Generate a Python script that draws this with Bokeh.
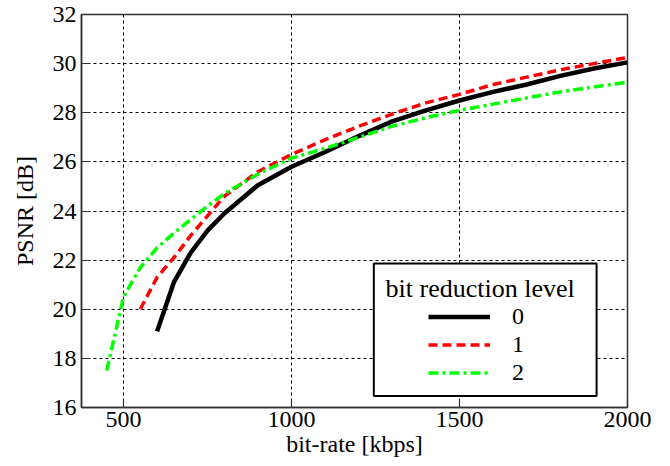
from bokeh.plotting import figure
from bokeh.models import (Range1d, FixedTicker, Legend, LegendItem,
                          BoxAnnotation, Label)
from bokeh.embed import file_html
from bokeh.resources import INLINE

# ---- data ----
levels = ["0", "1", "2"]
bitrate0 = [600, 650, 700, 750, 800, 900, 1000, 1100, 1200, 1300, 1400, 1500,
            1600, 1700, 1800, 1900, 2000]
psnr0 = [19.1, 21.1, 22.3, 23.2, 23.9, 25.05, 25.8, 26.4, 27.05, 27.65, 28.1,
         28.5, 28.85, 29.15, 29.5, 29.8, 30.05]
bitrate1 = [550, 600, 650, 700, 750, 800, 900, 1000, 1100, 1200, 1300, 1400,
            1500, 1600, 1700, 1800, 1900, 2000]
psnr1 = [20.0, 21.3, 22.1, 23.0, 23.8, 24.6, 25.6, 26.3, 26.9, 27.45, 27.95,
         28.4, 28.75, 29.15, 29.45, 29.75, 30.0, 30.25]
bitrate2 = [450, 500, 550, 600, 650, 700, 750, 800, 900, 1000, 1100, 1200,
            1300, 1400, 1500, 1600, 1700, 1800, 1900, 2000]
psnr2 = [17.5, 20.5, 21.7, 22.5, 23.1, 23.65, 24.2, 24.7, 25.5, 26.15, 26.55,
         27.0, 27.45, 27.8, 28.1, 28.35, 28.6, 28.85, 29.05, 29.25]

x_ticks = [500, 1000, 1500, 2000]
y_ticks = [16, 18, 20, 22, 24, 26, 28, 30, 32]
x_title = "bit-rate [kbps]"
y_title = "PSNR [dB]"
legend_title = "bit reduction level"

FONT = "Liberation Serif"
FS = "24px"

p = figure(frame_width=546, frame_height=393,
           x_range=Range1d(375, 2000), y_range=Range1d(16, 32),
           output_backend="svg", toolbar_location=None,
           min_border_left=81, min_border_right=30,
           min_border_top=14, min_border_bottom=56,
           background_fill_color="white", border_fill_color="white")

p.outline_line_color = "#333333"
p.outline_line_width = 1.5

for ax, ticks, title in ((p.xaxis[0], x_ticks, x_title), (p.yaxis[0], y_ticks, y_title)):
    ax.ticker = FixedTicker(ticks=ticks)
    ax.axis_label = title
    ax.axis_label_text_font = FONT
    ax.axis_label_text_font_size = FS
    ax.axis_label_text_font_style = "normal"
    ax.axis_label_text_color = "black"
    ax.major_label_text_font = FONT
    ax.major_label_text_font_size = FS
    ax.major_label_text_color = "black"
    ax.major_tick_in = 8
    ax.major_tick_out = 0
    ax.minor_tick_line_color = None
    ax.axis_line_color = "#333333"
    ax.axis_line_width = 1.5
    ax.major_tick_line_color = "#333333"
    ax.major_tick_line_width = 1.2

p.xaxis.major_label_standoff = 4
p.xaxis.axis_label_standoff = 1
p.yaxis.major_label_standoff = 5
p.yaxis.axis_label_standoff = 12

for g, ticks in ((p.xgrid[0], x_ticks), (p.ygrid[0], y_ticks)):
    g.ticker = FixedTicker(ticks=ticks)
    g.grid_line_color = "black"
    g.grid_line_width = 1
    g.grid_line_dash = "3 3"

r0 = p.line(bitrate0, psnr0, line_color="black", line_width=4.5)
r1 = p.line(bitrate1, psnr1, line_color="#ff0000", line_width=3.5, line_dash="9 5")
r2 = p.line(bitrate2, psnr2, line_color="#00ff00", line_width=3.5, line_dash="10 4 3 4")

# legend frame and title
box = BoxAnnotation(left=1245, right=1908, bottom=16.47, top=21.86,
                    fill_color="white", fill_alpha=1.0,
                    line_color="black", line_alpha=1.0, line_width=2)
p.add_layout(box)
p.add_layout(Label(x=1280, y=20.86, text=legend_title, text_font=FONT,
                   text_font_size="26px", text_baseline="middle", text_color="black"))

legend = Legend(items=[LegendItem(label=levels[0], renderers=[r0]),
                       LegendItem(label=levels[1], renderers=[r1]),
                       LegendItem(label=levels[2], renderers=[r2])],
                location=(347, 21), glyph_width=62, glyph_height=25,
                label_height=25, spacing=1, padding=0, margin=0,
                label_standoff=22, label_text_font=FONT, label_text_font_size=FS,
                label_text_color="black",
                background_fill_alpha=0, border_line_color=None)
p.add_layout(legend, "center")

open("out.html", "w").write(file_html(p, INLINE))
